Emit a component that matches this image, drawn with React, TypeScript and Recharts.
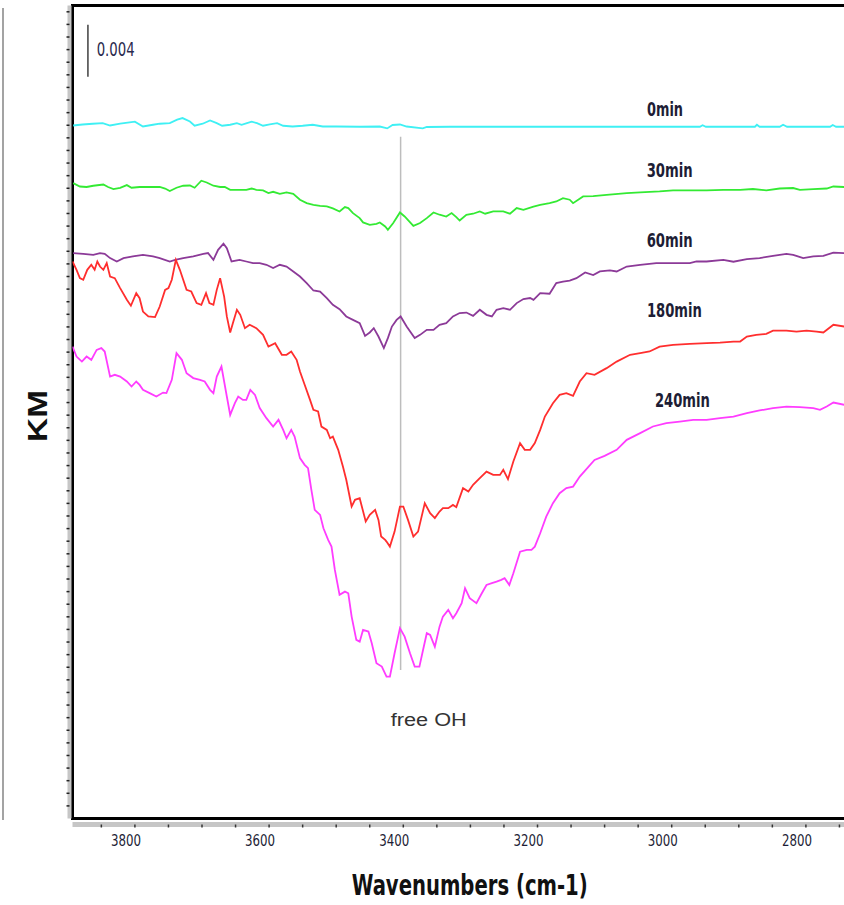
import React from 'react';
import { LineChart, Line, XAxis, YAxis, ReferenceLine, ReferenceArea, ReferenceDot } from 'recharts';

// Kubelka-Munk spectra, stacked as drawn. KM in units of 0.001 (the scale bar reads 0.004 = 4 units).
// Each point is [wavenumber cm-1, KM x 1000].
const MIN0: [number, number][] = [
  [3892, 54.98], [3878, 55.06], [3863, 55.12], [3848, 55.17], [3837, 54.98], [3822, 55.12], [3808, 55.22],
  [3800, 55.28], [3788, 54.9], [3773, 55.04], [3763, 55.12], [3748, 55.17], [3737, 55.44], [3729, 55.57],
  [3718, 55.3], [3711, 54.96], [3699, 55.12], [3688, 55.38], [3678, 55.17], [3670, 54.96], [3658, 55.04],
  [3648, 55.17], [3641, 55.04], [3633, 55.17], [3626, 55.28], [3618, 55.17], [3609, 54.96], [3599, 55.06],
  [3588, 55.17], [3579, 54.96], [3565, 54.9], [3550, 54.96], [3535, 55.04], [3520, 54.9], [3499, 54.9],
  [3465, 54.88], [3435, 54.9], [3424, 54.75], [3416, 55.02], [3405, 55.06], [3395, 54.9], [3371, 54.75],
  [3365, 54.86], [3331, 54.88], [3256, 54.88], [3182, 54.88], [3107, 54.88], [3033, 54.88], [2958, 54.88],
  [2954, 55.0], [2949, 54.88], [2876, 54.88], [2873, 55.04], [2869, 54.88], [2839, 54.88], [2834, 55.04],
  [2828, 54.88], [2764, 54.88], [2760, 55.02], [2755, 54.88], [2700, 54.88],
];

const MIN30: [number, number][] = [
  [3892, 50.41], [3882, 50.14], [3872, 50.1], [3862, 50.2], [3847, 50.3], [3840, 50.1], [3832, 49.94],
  [3822, 50.04], [3812, 50.25], [3805, 50.04], [3793, 50.1], [3778, 50.1], [3763, 50.1], [3755, 49.98],
  [3748, 49.78], [3738, 50.04], [3728, 50.2], [3718, 50.22], [3711, 50.04], [3701, 50.6], [3693, 50.46],
  [3683, 50.2], [3673, 50.1], [3666, 50.1], [3658, 49.88], [3644, 49.88], [3634, 49.88], [3626, 49.98],
  [3619, 49.88], [3609, 49.83], [3601, 49.62], [3594, 49.72], [3584, 49.56], [3574, 49.67], [3564, 49.56],
  [3554, 49.09], [3544, 48.82], [3534, 48.69], [3524, 48.61], [3514, 48.56], [3505, 48.4], [3495, 48.16],
  [3487, 48.51], [3482, 48.43], [3475, 48.03], [3465, 47.63], [3460, 47.29], [3450, 47.1], [3440, 47.18],
  [3435, 47.29], [3427, 46.97], [3423, 46.71], [3415, 47.24], [3405, 48.08], [3398, 47.76], [3385, 47.02],
  [3375, 47.24], [3365, 47.63], [3355, 48.08], [3346, 47.9], [3336, 47.76], [3328, 48.03], [3321, 47.71],
  [3316, 47.44], [3306, 47.9], [3296, 47.98], [3286, 48.16], [3278, 47.98], [3266, 48.16], [3251, 48.16],
  [3241, 47.98], [3231, 48.43], [3221, 48.29], [3206, 48.55], [3196, 48.69], [3182, 48.83], [3172, 48.95],
  [3162, 49.22], [3152, 49.09], [3147, 48.82], [3132, 49.35], [3117, 49.38], [3097, 49.48], [3067, 49.62],
  [3047, 49.67], [3018, 49.75], [2998, 49.83], [2973, 49.83], [2948, 49.83], [2923, 49.88], [2898, 49.88],
  [2879, 49.94], [2859, 49.83], [2839, 49.98], [2819, 50.02], [2809, 49.88], [2789, 49.94], [2769, 49.98],
  [2759, 50.14], [2743, 50.1], [2700, 50.12],
];

const MIN60: [number, number][] = [
  [3892, 44.86], [3877, 44.8], [3862, 44.72], [3852, 44.86], [3845, 44.8], [3837, 44.46], [3827, 44.19],
  [3817, 44.46], [3803, 44.59], [3788, 44.72], [3773, 44.59], [3763, 44.46], [3748, 44.19], [3740, 44.32],
  [3728, 44.46], [3713, 44.59], [3698, 44.8], [3691, 44.86], [3683, 44.32], [3676, 45.12], [3668, 45.6],
  [3663, 45.25], [3656, 44.19], [3644, 44.32], [3634, 44.19], [3624, 44.06], [3614, 44.06], [3604, 43.93],
  [3594, 43.67], [3584, 43.93], [3574, 43.79], [3564, 43.4], [3554, 43.0], [3544, 42.48], [3534, 41.89],
  [3524, 41.81], [3514, 41.29], [3505, 40.75], [3495, 40.41], [3485, 39.83], [3475, 39.56], [3465, 39.3],
  [3457, 38.29], [3450, 38.56], [3444, 38.9], [3437, 38.24], [3429, 37.32], [3423, 38.11], [3417, 39.03],
  [3410, 39.56], [3404, 39.83], [3395, 39.03], [3383, 38.11], [3375, 38.37], [3365, 38.77], [3355, 38.77],
  [3346, 39.17], [3336, 39.3], [3326, 39.83], [3316, 40.1], [3306, 40.14], [3296, 39.88], [3286, 40.36],
  [3276, 39.96], [3268, 39.83], [3261, 40.36], [3251, 40.49], [3241, 40.36], [3231, 40.89], [3221, 41.21],
  [3211, 41.29], [3206, 41.15], [3196, 41.68], [3182, 41.63], [3172, 42.48], [3162, 42.6], [3152, 42.68],
  [3142, 42.87], [3129, 43.32], [3117, 43.11], [3107, 43.4], [3092, 43.48], [3082, 43.4], [3067, 43.79],
  [3047, 43.93], [3023, 44.06], [2998, 44.06], [2973, 44.06], [2963, 44.19], [2948, 44.19], [2923, 44.32],
  [2908, 44.17], [2888, 44.38], [2869, 44.46], [2849, 44.64], [2829, 44.8], [2819, 44.72], [2804, 44.46],
  [2789, 44.59], [2774, 44.64], [2759, 44.9], [2743, 44.86], [2700, 44.88],
];

const MIN180: [number, number][] = [
  [3893, 44.19], [3887, 43.53], [3882, 42.87], [3877, 42.74], [3871, 43.53], [3865, 43.93], [3860, 43.53],
  [3856, 44.19], [3852, 43.79], [3847, 43.53], [3842, 44.06], [3837, 43.0], [3830, 42.87], [3822, 42.08],
  [3812, 41.15], [3806, 40.68], [3798, 41.68], [3793, 41.28], [3788, 40.22], [3780, 39.83], [3770, 39.78],
  [3763, 40.62], [3755, 41.94], [3750, 42.08], [3745, 42.74], [3739, 44.32], [3733, 43.53], [3723, 41.94],
  [3716, 41.81], [3708, 40.89], [3701, 40.75], [3694, 41.68], [3689, 40.89], [3683, 40.75], [3678, 41.94],
  [3673, 42.87], [3667, 41.41], [3663, 39.83], [3658, 38.56], [3654, 39.3], [3648, 40.36], [3643, 39.96],
  [3636, 38.9], [3629, 39.17], [3619, 38.9], [3609, 38.37], [3601, 37.44], [3591, 37.71], [3581, 36.79],
  [3574, 36.79], [3567, 37.05], [3559, 36.39], [3554, 35.46], [3547, 34.41], [3539, 33.21], [3534, 32.42],
  [3527, 32.29], [3522, 31.09], [3514, 30.83], [3509, 30.17], [3505, 30.3], [3497, 29.25], [3490, 27.92],
  [3485, 26.87], [3477, 24.75], [3472, 25.28], [3465, 25.41], [3456, 23.56], [3450, 24.09], [3442, 24.48],
  [3437, 23.69], [3433, 22.37], [3427, 22.1], [3425, 21.97], [3420, 21.57], [3413, 22.76], [3405, 24.75],
  [3400, 24.75], [3393, 23.69], [3385, 22.37], [3378, 22.76], [3368, 25.01], [3360, 24.22], [3353, 23.83],
  [3346, 24.35], [3341, 24.62], [3333, 24.62], [3326, 24.88], [3321, 24.7], [3311, 26.21], [3303, 25.94],
  [3296, 26.47], [3286, 27.0], [3276, 27.52], [3266, 27.26], [3256, 27.26], [3251, 27.66], [3244, 26.92],
  [3236, 28.32], [3226, 29.78], [3219, 29.25], [3211, 29.25], [3204, 29.78], [3196, 30.83], [3189, 31.89],
  [3177, 32.95], [3167, 33.61], [3157, 33.75], [3147, 33.53], [3137, 34.67], [3127, 35.33], [3115, 35.2],
  [3097, 35.73], [3082, 36.25], [3062, 36.79], [3047, 36.92], [3033, 37.05], [3018, 37.44], [2998, 37.58],
  [2973, 37.66], [2948, 37.71], [2928, 37.76], [2908, 37.84], [2898, 37.84], [2888, 38.24], [2874, 38.37],
  [2859, 38.45], [2849, 38.71], [2829, 38.71], [2814, 38.63], [2799, 38.71], [2784, 38.63], [2774, 38.56],
  [2759, 39.17], [2743, 39.03], [2700, 39.09],
];

const MIN240: [number, number][] = [
  [3893, 37.44], [3887, 36.65], [3879, 36.25], [3872, 36.65], [3865, 36.39], [3857, 37.18], [3850, 37.32],
  [3845, 37.05], [3837, 35.06], [3830, 35.2], [3822, 35.06], [3812, 34.67], [3805, 34.27], [3798, 34.67],
  [3793, 34.4], [3788, 34.01], [3778, 33.75], [3768, 33.48], [3758, 33.79], [3753, 33.75], [3745, 34.8],
  [3738, 36.92], [3730, 36.39], [3723, 35.33], [3713, 34.94], [3703, 34.8], [3696, 34.67], [3688, 34.01],
  [3683, 33.75], [3678, 35.06], [3671, 35.86], [3663, 33.48], [3658, 32.02], [3651, 32.95], [3646, 33.48],
  [3639, 33.21], [3634, 33.21], [3628, 34.01], [3621, 33.61], [3614, 32.56], [3604, 31.76], [3594, 31.1],
  [3586, 31.63], [3579, 30.83], [3574, 30.17], [3567, 30.83], [3562, 30.3], [3554, 28.59], [3547, 28.06],
  [3542, 27.79], [3537, 26.07], [3532, 24.49], [3524, 24.09], [3519, 23.03], [3512, 22.1], [3507, 21.57],
  [3502, 19.72], [3495, 17.74], [3487, 18.0], [3482, 17.87], [3477, 16.02], [3470, 14.17], [3465, 14.03],
  [3460, 14.96], [3452, 14.83], [3447, 13.9], [3440, 12.32], [3432, 12.05], [3425, 11.25], [3420, 11.25],
  [3413, 13.11], [3405, 15.1], [3398, 14.43], [3390, 13.11], [3383, 12.05], [3376, 12.05], [3370, 13.51],
  [3365, 14.7], [3360, 14.56], [3353, 13.63], [3346, 15.22], [3341, 16.02], [3333, 16.55], [3326, 15.89],
  [3321, 16.29], [3313, 17.08], [3308, 18.27], [3301, 17.48], [3291, 17.08], [3283, 17.87], [3276, 18.53],
  [3268, 18.67], [3261, 18.79], [3254, 18.93], [3249, 19.06], [3242, 18.53], [3236, 19.46], [3226, 21.17],
  [3216, 21.31], [3209, 21.31], [3204, 21.57], [3196, 22.63], [3187, 23.95], [3177, 25.02], [3167, 25.81],
  [3157, 26.21], [3147, 26.33], [3137, 27.13], [3115, 28.45], [3100, 28.77], [3082, 29.25], [3067, 30.04],
  [3047, 30.57], [3028, 31.1], [3008, 31.37], [2988, 31.49], [2968, 31.63], [2948, 31.63], [2928, 31.76],
  [2908, 31.89], [2888, 32.16], [2869, 32.37], [2849, 32.56], [2829, 32.68], [2809, 32.63], [2789, 32.56],
  [2779, 32.42], [2769, 32.68], [2759, 33.0], [2743, 32.82], [2700, 32.9],
];

const SERIES = [
  { name: '0min', color: '#3ff0f4', points: MIN0 },
  { name: '30min', color: '#33ea33', points: MIN30 },
  { name: '60min', color: '#8c3a98', points: MIN60 },
  { name: '180min', color: '#ff2e2e', points: MIN180 },
  { name: '240min', color: '#ff3cff', points: MIN240 },
];

const X_TICKS = [3850, 3800, 3750, 3700, 3650, 3600, 3550, 3500, 3450, 3400, 3350, 3300, 3250, 3200, 3150,
  3100, 3050, 3000, 2950, 2900, 2850, 2800, 2750];
const X_LABELS = [3800, 3600, 3400, 3200, 3000, 2800];
const Y_TICKS = Array.from({ length: 64 }, (_, i) => i + 1);

const X_DOMAIN: [number, number] = [2700, 3893];
const Y_DOMAIN: [number, number] = [0, 64.5];

const FREE_OH = 3404;
const SCALE_BAR: [number, number] = [58.85, 62.98];

const NARROW = '"Liberation Sans Narrow", "Arial Narrow", "DejaVu Sans Condensed", sans-serif';
const SANS = '"Liberation Sans", Arial, "DejaVu Sans", sans-serif';
const INK = '#1d1d35';

const toRows = (pts: [number, number][]) => pts.map(([wn, km]) => ({ wn, km }));

function XTick(props: any) {
  const { x, y, payload } = props;
  if (!X_LABELS.includes(payload.value)) return <g />;
  return (
    <text x={x - 9} y={y} dy="0.71em" textAnchor="middle" fontSize={16} fontFamily={NARROW} fill={INK}
      textLength={30} lengthAdjust="spacingAndGlyphs">
      {payload.value}
    </text>
  );
}

// text placed at a data point (ReferenceDot with r=0)
function tag(text: string, opts: { size: number; width: number; bold?: boolean; anchor?: 'start' | 'middle'; font?: string; fill?: string }) {
  return (p: any) => {
    const vb = p.viewBox || {};
    return (
      <text x={vb.x} y={vb.y} textAnchor={opts.anchor ?? 'middle'} dominantBaseline="central"
        fontSize={opts.size} fontFamily={opts.font ?? NARROW} fontWeight={opts.bold ? 700 : 400}
        fill={opts.fill ?? INK} textLength={opts.width} lengthAdjust="spacingAndGlyphs">
        {text}
      </text>
    );
  };
}

export default function App() {
  return (
    <div style={{ position: 'absolute', left: 0, top: 0, width: 844, height: 905, overflow: 'hidden', background: '#fff' }}>
      {/* edge of the neighbouring panel */}
      <div style={{ position: 'absolute', left: 2, top: 8, width: 2, height: 812, background: '#a3a3a3' }} />
      <LineChart width={880} height={905} margin={{ top: 5.5, right: 7, bottom: 50.5, left: 65.5 }}>
        <XAxis xAxisId="gap" type="number" dataKey="wn" domain={X_DOMAIN} reversed allowDataOverflow
          height={6} axisLine={false} tickLine={false} tick={false} />
        <XAxis xAxisId="wn" type="number" dataKey="wn" domain={X_DOMAIN} reversed allowDataOverflow
          height={30} ticks={X_TICKS} interval={0} tickSize={3} tickMargin={7.5}
          axisLine={{ stroke: '#c6c6c6', strokeWidth: 5 }} tickLine={{ stroke: '#333', strokeWidth: 1.5 }}
          tick={<XTick />}
          label={{
            content: (p: any) => {
              const vb = p.viewBox;
              return (
                <text x={vb.x + vb.width / 2 - 3} y={895} textAnchor="middle" fontSize={28} fontWeight={700}
                  fontFamily={NARROW} fill="#111" textLength={236} lengthAdjust="spacingAndGlyphs">
                  Wavenumbers (cm-1)
                </text>
              );
            },
          }}
        />
        <YAxis yAxisId="gap" type="number" domain={Y_DOMAIN} allowDataOverflow width={3}
          axisLine={false} tickLine={false} tick={false} />
        <YAxis yAxisId="km" type="number" dataKey="km" domain={Y_DOMAIN} allowDataOverflow width={4}
          ticks={Y_TICKS} interval={0} tickSize={3}
          axisLine={{ stroke: '#c6c6c6', strokeWidth: 4 }} tickLine={{ stroke: '#222', strokeWidth: 1.5 }}
          tick={() => <g />}
          label={{
            content: (p: any) => {
              const vb = p.viewBox;
              const cy = vb.y + vb.height / 2 + 4;
              return (
                <text transform={`translate(37, ${cy}) rotate(-90)`} textAnchor="middle" dominantBaseline="central"
                  fontSize={28} fontWeight={700} fontFamily={SANS} fill="#111" textLength={52}
                  lengthAdjust="spacingAndGlyphs">
                  KM
                </text>
              );
            },
          }}
        />

        <ReferenceLine xAxisId="wn" yAxisId="km" stroke="#bdbdbd" strokeWidth={1.5}
          segment={[{ x: FREE_OH, y: 11.79 }, { x: FREE_OH, y: 54.09 }]} />
        <ReferenceLine xAxisId="wn" yAxisId="km" stroke="#222" strokeWidth={1.3}
          segment={[{ x: 3870, y: SCALE_BAR[0] }, { x: 3870, y: SCALE_BAR[1] }]} />

        {SERIES.map((s) => (
          <Line key={s.name} xAxisId="wn" yAxisId="km" data={toRows(s.points)} dataKey="km" type="linear"
            stroke={s.color} strokeWidth={1.8} dot={false} activeDot={false} isAnimationActive={false} />
        ))}

        <ReferenceArea xAxisId="wn" yAxisId="km" x1={X_DOMAIN[0]} x2={X_DOMAIN[1]} y1={Y_DOMAIN[0]} y2={Y_DOMAIN[1]}
          fill="none" stroke="#000" strokeWidth={3} fillOpacity={0} />

        <ReferenceDot xAxisId="wn" yAxisId="km" x={3857} y={61.03} r={0} fill="none" stroke="none"
          label={{ content: tag('0.004', { size: 19, width: 38, anchor: 'start', fill: '#2a2a4e' }) }} />
        <ReferenceDot xAxisId="wn" yAxisId="km" x={3010} y={56.27} r={0} fill="none" stroke="none"
          label={{ content: tag('0min', { size: 19, width: 36, bold: true }) }} />
        <ReferenceDot xAxisId="wn" yAxisId="km" x={3003} y={51.47} r={0} fill="none" stroke="none"
          label={{ content: tag('30min', { size: 19, width: 46, bold: true }) }} />
        <ReferenceDot xAxisId="wn" yAxisId="km" x={3003} y={45.91} r={0} fill="none" stroke="none"
          label={{ content: tag('60min', { size: 19, width: 46, bold: true }) }} />
        <ReferenceDot xAxisId="wn" yAxisId="km" x={2996} y={40.36} r={0} fill="none" stroke="none"
          label={{ content: tag('180min', { size: 19, width: 55, bold: true }) }} />
        <ReferenceDot xAxisId="wn" yAxisId="km" x={2984} y={33.17} r={0} fill="none" stroke="none"
          label={{ content: tag('240min', { size: 19, width: 55, bold: true }) }} />
        <ReferenceDot xAxisId="wn" yAxisId="km" x={3362} y={7.82} r={0} fill="none" stroke="none"
          label={{ content: tag('free OH', { size: 18, width: 76, font: SANS, fill: '#333' }) }} />
      </LineChart>
    </div>
  );
}
